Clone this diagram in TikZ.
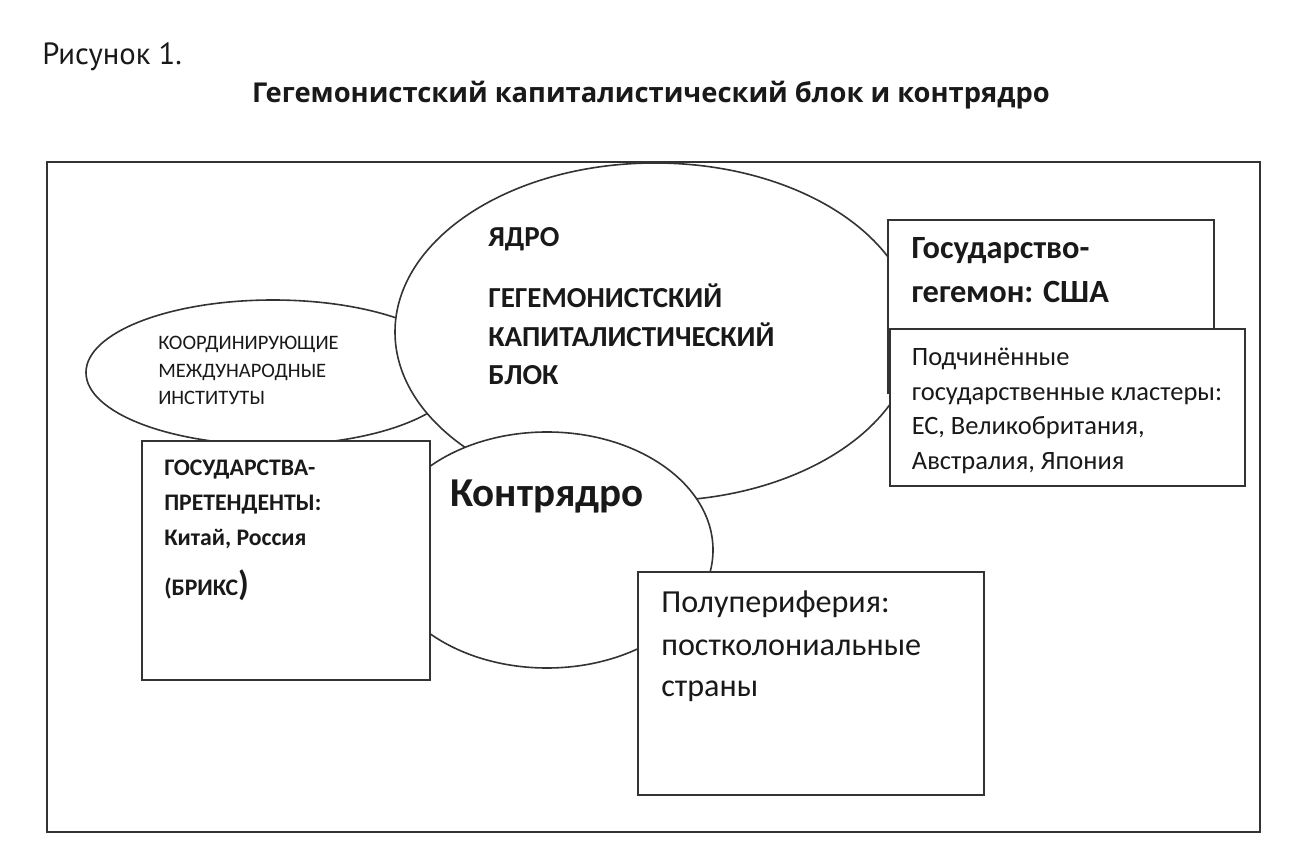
\documentclass[tikz,border=0pt]{standalone}
\usepackage{fontspec}
\setmainfont{Carlito}
\newfontfamily\headfont{PT Sans}
\newfontfamily\titlefont{Open Sans}
\usetikzlibrary{shapes.geometric}
\newcommand\pxu{0.75pt}

\begin{document}
\begin{tikzpicture}[x=0.75pt, y=-0.75pt,
    outline/.style={draw=black!80, line width=1.2pt, fill=white},
    oval/.style={outline, ellipse, inner sep=0pt},
    panel/.style={outline, rectangle, inner sep=0pt, anchor=north west},
    txt/.style={anchor=base west, align=left, inner sep=0pt, text=black!90}]
  \useasboundingbox (0,0) rectangle (1297,862);
  \fill[white] (0,0) rectangle (1297,862);

  \node[txt, font=\headfont\fontsize{23}{28}\selectfont] (fig) at (42,65) {Рисунок 1.};
  \node[txt, anchor=base, font=\titlefont\bfseries\fontsize{20.5}{26}\selectfont] (title) at (651,103)
    {Гегемонистский капиталистический блок и контрядро};

  \node[panel, minimum width=1213*\pxu, minimum height=670*\pxu] (frame) at (46,161) {};

  \node[oval, minimum width=374*\pxu, minimum height=145*\pxu] (coord) at (273,372.5) {};
  \node[oval, minimum width=520*\pxu, minimum height=338*\pxu] (core) at (655,332) {};
  \node[oval, minimum width=332*\pxu, minimum height=236*\pxu] (contra) at (547,550) {};

  \node[panel, minimum width=288*\pxu, minimum height=239*\pxu] (pret) at (141,440) {};
  \node[panel, minimum width=346*\pxu, minimum height=223*\pxu] (semi) at (637,571) {};
  \node[panel, minimum width=326*\pxu, minimum height=173*\pxu] (usa) at (887,219) {};
  \node[panel, minimum width=355*\pxu, minimum height=157*\pxu] (vassal) at (889,328) {};

  \node[txt, font=\fontsize{15.4}{20.7}\selectfont] (coordText) at ([shift={(-115,32.2)}]coord.center)
    {КООРДИНИРУЮЩИЕ\\МЕЖДУНАРОДНЫЕ\\ИНСТИТУТЫ};
  \node[txt, font=\bfseries\fontsize{21.75}{28.9}\selectfont] (coreText) at ([shift={(-167,53)}]core.center)
    {ЯДРО\\[17.3pt]ГЕГЕМОНИСТСКИЙ\\КАПИТАЛИСТИЧЕСКИЙ\\БЛОК};
  \node[txt, font=\bfseries\fontsize{30.8}{34}\selectfont] (contraText) at ([shift={(-97,-43)}]contra.center)
    {Контрядро};
  \node[txt, font=\bfseries\fontsize{17.8}{26}\selectfont] (pretText) at ([shift={(23,155.7)}]pret.north west)
    {ГОСУДАРСТВА-\\ПРЕТЕНДЕНТЫ:\\Китай, Россия\\[12pt](БРИКС{\fontsize{26}{26}\selectfont)}};
  \node[txt, font=\fontsize{24.1}{31.5}\selectfont] (semiText) at ([shift={(24,126)}]semi.north west)
    {Полупериферия:\\постколониальные\\страны};
  \node[txt, font=\bfseries\fontsize{24.3}{32.7}\selectfont] (usaText) at ([shift={(24.3,83.4)}]usa.north west)
    {Государство-\\гегемон: США};
  \node[txt, font=\fontsize{19.85}{26.1}\selectfont] (vassalText) at ([shift={(22.7,141.7)}]vassal.north west)
    {Подчинённые\\государственные кластеры:\\ЕС, Великобритания,\\Австралия, Япония};
\end{tikzpicture}
\end{document}
